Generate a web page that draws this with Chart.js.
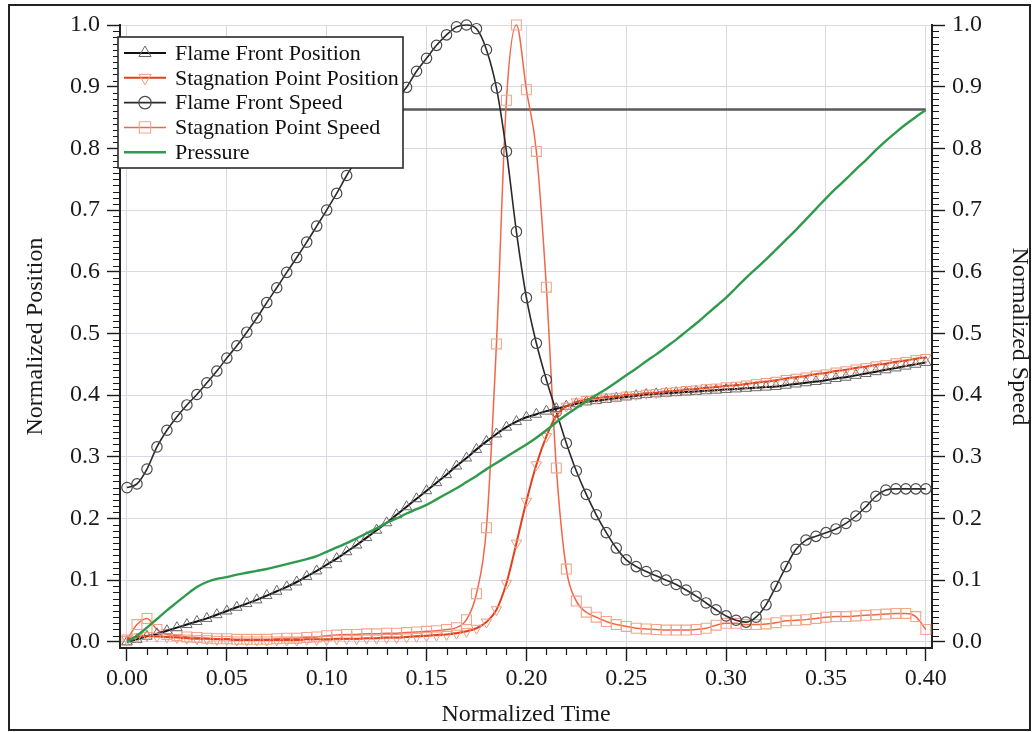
<!DOCTYPE html>
<html>
<head>
<meta charset="utf-8">
<title>Normalized flame and stagnation point history</title>
<script src="https://cdn.jsdelivr.net/npm/chart.js@4.4.1/dist/chart.umd.min.js"></script>
<style>
  html, body { margin: 0; padding: 0; background: #ffffff; }
  #wrap { width: 1036px; height: 732px; position: relative; }
  canvas { display: block; }
</style>
</head>
<body>
<div id="wrap"><canvas id="chart" width="1036" height="732"></canvas></div>
<script>
// Normalized time samples (every 0.005)
const TIME = [
  0.000, 0.005, 0.010, 0.015, 0.020, 0.025, 0.030, 0.035, 0.040, 0.045,
  0.050, 0.055, 0.060, 0.065, 0.070, 0.075, 0.080, 0.085, 0.090, 0.095,
  0.100, 0.105, 0.110, 0.115, 0.120, 0.125, 0.130, 0.135, 0.140, 0.145,
  0.150, 0.155, 0.160, 0.165, 0.170, 0.175, 0.180, 0.185, 0.190, 0.195,
  0.200, 0.205, 0.210, 0.215, 0.220, 0.225, 0.230, 0.235, 0.240, 0.245,
  0.250, 0.255, 0.260, 0.265, 0.270, 0.275, 0.280, 0.285, 0.290, 0.295,
  0.300, 0.305, 0.310, 0.315, 0.320, 0.325, 0.330, 0.335, 0.340, 0.345,
  0.350, 0.355, 0.360, 0.365, 0.370, 0.375, 0.380, 0.385, 0.390, 0.395,
  0.400
];

const FLAME_FRONT_POSITION = [
  0.000, 0.004, 0.009, 0.013, 0.018, 0.023, 0.028, 0.033, 0.038, 0.044,
  0.050, 0.056, 0.062, 0.068, 0.075, 0.082, 0.089, 0.097, 0.106, 0.115,
  0.125, 0.135, 0.146, 0.157, 0.169, 0.181, 0.193, 0.206, 0.219, 0.232,
  0.245, 0.258, 0.271, 0.285, 0.298, 0.312, 0.325, 0.337, 0.348, 0.357,
  0.364, 0.369, 0.374, 0.378, 0.382, 0.386, 0.389, 0.391, 0.393, 0.395,
  0.397, 0.399, 0.401, 0.402, 0.403, 0.404, 0.405, 0.406, 0.407, 0.408,
  0.409, 0.410, 0.411, 0.412, 0.413, 0.414, 0.416, 0.418, 0.420, 0.422,
  0.424, 0.427, 0.429, 0.432, 0.435, 0.438, 0.441, 0.444, 0.447, 0.450,
  0.453
];

const STAGNATION_POINT_POSITION = [
  0.004, 0.008, 0.010, 0.009, 0.008, 0.007, 0.006, 0.005, 0.005, 0.004,
  0.004, 0.003, 0.003, 0.003, 0.003, 0.003, 0.003, 0.003, 0.004, 0.004,
  0.004, 0.005, 0.005, 0.005, 0.006, 0.006, 0.007, 0.007, 0.008, 0.009,
  0.010, 0.011, 0.012, 0.014, 0.017, 0.022, 0.032, 0.052, 0.095, 0.160,
  0.228, 0.287, 0.333, 0.367, 0.382, 0.389, 0.393, 0.395, 0.397, 0.398,
  0.400, 0.401, 0.403, 0.404, 0.406, 0.407, 0.409, 0.410, 0.412, 0.413,
  0.415, 0.416, 0.418, 0.420, 0.422, 0.424, 0.427, 0.429, 0.431, 0.434,
  0.436, 0.439, 0.441, 0.444, 0.446, 0.449, 0.451, 0.454, 0.456, 0.459,
  0.461
];

const FLAME_FRONT_SPEED = [
  0.250, 0.256, 0.280, 0.316, 0.343, 0.365, 0.384, 0.401, 0.420, 0.439,
  0.460, 0.480, 0.502, 0.525, 0.550, 0.574, 0.599, 0.623, 0.648, 0.674,
  0.700, 0.727, 0.756, 0.782, 0.810, 0.837, 0.860, 0.880, 0.899, 0.925,
  0.946, 0.967, 0.984, 0.997, 1.000, 0.994, 0.960, 0.898, 0.795, 0.665,
  0.558, 0.484, 0.425, 0.373, 0.322, 0.277, 0.239, 0.206, 0.177, 0.152,
  0.133, 0.122, 0.114, 0.107, 0.100, 0.093, 0.084, 0.074, 0.063, 0.052,
  0.042, 0.035, 0.032, 0.040, 0.060, 0.090, 0.122, 0.150, 0.165, 0.171,
  0.177, 0.183, 0.192, 0.204, 0.219, 0.236, 0.246, 0.248, 0.248, 0.248,
  0.248
];

const STAGNATION_POINT_SPEED = [
  0.003, 0.028, 0.038, 0.020, 0.012, 0.010, 0.008, 0.007, 0.006, 0.005,
  0.005, 0.004, 0.004, 0.004, 0.004, 0.005, 0.006, 0.006, 0.007, 0.008,
  0.010, 0.011, 0.012, 0.012, 0.013, 0.013, 0.014, 0.014, 0.015, 0.016,
  0.017, 0.018, 0.020, 0.023, 0.036, 0.078, 0.185, 0.483, 0.878, 1.000,
  0.895, 0.795, 0.575, 0.282, 0.118, 0.066, 0.048, 0.040, 0.033, 0.028,
  0.025, 0.022, 0.021, 0.020, 0.019, 0.019, 0.019, 0.020, 0.022, 0.027,
  0.030, 0.030, 0.028, 0.028, 0.029, 0.031, 0.034, 0.035, 0.036, 0.038,
  0.040, 0.041, 0.041, 0.042, 0.043, 0.044, 0.045, 0.046, 0.046, 0.041,
  0.020
];

const PRESSURE = [
  0.000, 0.010, 0.023, 0.037, 0.051, 0.064, 0.077, 0.089, 0.097, 0.102,
  0.105, 0.109, 0.112, 0.115, 0.118, 0.122, 0.126, 0.130, 0.134, 0.139,
  0.146, 0.153, 0.160, 0.168, 0.176, 0.184, 0.193, 0.200, 0.208, 0.215,
  0.222, 0.231, 0.240, 0.249, 0.259, 0.269, 0.280, 0.290, 0.300, 0.310,
  0.320, 0.331, 0.343, 0.356, 0.368, 0.379, 0.390, 0.400, 0.410, 0.421,
  0.432, 0.443, 0.455, 0.466, 0.478, 0.490, 0.503, 0.516, 0.530, 0.544,
  0.558, 0.574, 0.590, 0.605, 0.620, 0.636, 0.652, 0.668, 0.685, 0.702,
  0.719, 0.735, 0.750, 0.766, 0.781, 0.797, 0.812, 0.826, 0.839, 0.851,
  0.862
];

// Constant reference level drawn across the plot
const REFERENCE_TIME = [0.000, 0.400];
const REFERENCE_LEVEL = [0.863, 0.863];

const X_TICKS = [0.00, 0.05, 0.10, 0.15, 0.20, 0.25, 0.30, 0.35, 0.40];
const X_TICK_LABELS = ['0.00', '0.05', '0.10', '0.15', '0.20', '0.25', '0.30', '0.35', '0.40'];
const Y_TICKS = [0.0, 0.1, 0.2, 0.3, 0.4, 0.5, 0.6, 0.7, 0.8, 0.9, 1.0];
const Y_TICK_LABELS = ['0.0', '0.1', '0.2', '0.3', '0.4', '0.5', '0.6', '0.7', '0.8', '0.9', '1.0'];

const SERIES_NAMES = [
  'Flame Front Position',
  'Stagnation Point Position',
  'Flame Front Speed',
  'Stagnation Point Speed',
  'Pressure'
];

const SERIF = "'Liberation Serif', 'Times New Roman', 'DejaVu Serif', serif";
const INK = '#1a1a1a';
const GRID = '#d9d9e6';

function pairs(xs, ys) {
  return xs.map((x, i) => ({ x: x, y: ys[i] }));
}

const datasets = [
  {
    label: SERIES_NAMES[1],
    data: pairs(TIME, STAGNATION_POINT_POSITION),
    borderColor: '#e2401f',
    borderWidth: 2,
    pointStyle: 'triangle',
    rotation: 180,
    pointRadius: 6,
    pointBorderColor: '#f29a7c',
    pointBorderWidth: 1,
    pointBackgroundColor: 'rgba(0,0,0,0)',
    order: 1,
    inLegend: true
  },
  {
    label: SERIES_NAMES[0],
    data: pairs(TIME, FLAME_FRONT_POSITION),
    borderColor: '#111111',
    borderWidth: 2,
    pointStyle: 'triangle',
    pointRadius: 6,
    pointBorderColor: '#6a6a6a',
    pointBorderWidth: 1,
    pointBackgroundColor: 'rgba(0,0,0,0)',
    order: 2,
    inLegend: true
  },
  {
    label: SERIES_NAMES[2],
    data: pairs(TIME, FLAME_FRONT_SPEED),
    borderColor: '#2a2a2a',
    borderWidth: 1.6,
    pointStyle: 'circle',
    pointRadius: 5.2,
    pointBorderColor: '#4a4a4a',
    pointBorderWidth: 1.2,
    pointBackgroundColor: 'rgba(0,0,0,0)',
    order: 3,
    inLegend: true
  },
  {
    label: SERIES_NAMES[3],
    data: pairs(TIME, STAGNATION_POINT_SPEED),
    borderColor: '#f0674a',
    borderWidth: 1.5,
    pointStyle: 'rect',
    pointRadius: 7,
    pointBorderColor: '#f3a68a',
    pointBorderWidth: 1.1,
    pointBackgroundColor: 'rgba(0,0,0,0)',
    order: 4,
    inLegend: true
  },
  {
    label: SERIES_NAMES[4],
    data: pairs(TIME, PRESSURE),
    borderColor: '#2f9a4c',
    borderWidth: 2.4,
    pointRadius: 0,
    order: 0,
    inLegend: true
  },
  {
    label: 'reference',
    data: pairs(REFERENCE_TIME, REFERENCE_LEVEL),
    borderColor: '#5a5a5a',
    borderWidth: 2.4,
    pointRadius: 0,
    order: 5,
    inLegend: false
  }
];

// White page background and the thin frame around the whole figure
const pageFrame = {
  id: 'pageFrame',
  beforeDraw(chart) {
    const ctx = chart.ctx;
    ctx.save();
    ctx.fillStyle = '#ffffff';
    ctx.fillRect(0, 0, chart.width, chart.height);
    ctx.restore();
  },
  afterDraw(chart) {
    const ctx = chart.ctx;
    ctx.save();
    ctx.strokeStyle = '#222222';
    ctx.lineWidth = 2;
    ctx.strokeRect(9, 5, 1021, 725);
    ctx.restore();
  }
};

// Short minor tick marks between the labelled ticks
const minorTicks = {
  id: 'minorTicks',
  afterDraw(chart) {
    const ctx = chart.ctx;
    const area = chart.chartArea;
    const sx = chart.scales.x;
    const sy = chart.scales.y;
    const len = 7;
    ctx.save();
    ctx.strokeStyle = INK;
    ctx.lineWidth = 1.2;
    ctx.beginPath();
    for (let i = 0; i <= 40; i++) {
      if (i % 5 === 0) continue;
      const px = Math.round(sx.getPixelForValue(i / 100)) + 0.5;
      ctx.moveTo(px, area.bottom);
      ctx.lineTo(px, area.bottom + len);
    }
    for (let i = 0; i <= 100; i++) {
      if (i % 10 === 0) continue;
      const py = Math.round(sy.getPixelForValue(i / 100)) + 0.5;
      ctx.moveTo(area.left, py);
      ctx.lineTo(area.left - len, py);
      ctx.moveTo(area.right, py);
      ctx.lineTo(area.right + len, py);
    }
    ctx.stroke();
    ctx.restore();
  }
};

// Boxed legend inside the upper-left corner of the plot
const boxedLegend = {
  id: 'boxedLegend',
  afterDraw(chart) {
    const ctx = chart.ctx;
    const area = chart.chartArea;
    const left = area.left - 2;
    const top = area.top + 12;
    const width = 285;
    const height = 131;
    const rowGap = 24.8;
    ctx.save();
    ctx.fillStyle = '#ffffff';
    ctx.fillRect(left, top, width, height);
    ctx.strokeStyle = '#2a2a2a';
    ctx.lineWidth = 1.6;
    ctx.strokeRect(left, top, width, height);

    const entries = SERIES_NAMES.map(name => chart.data.datasets.find(d => d.label === name && d.inLegend));
    entries.forEach((ds, i) => {
      const cy = top + 16 + i * rowGap;
      const x0 = left + 6;
      const x1 = left + 48;
      ctx.strokeStyle = ds.borderColor;
      ctx.lineWidth = ds.borderWidth;
      ctx.beginPath();
      ctx.moveTo(x0, cy);
      ctx.lineTo(x1, cy);
      ctx.stroke();
      if (ds.pointRadius > 0) {
        ctx.strokeStyle = ds.pointBorderColor;
        ctx.fillStyle = 'rgba(0,0,0,0)';
        ctx.lineWidth = ds.pointBorderWidth;
        Chart.helpers.drawPoint(ctx, {
          pointStyle: ds.pointStyle,
          rotation: ds.rotation || 0,
          radius: ds.pointRadius + 1,
          borderWidth: ds.pointBorderWidth
        }, (x0 + x1) / 2, cy);
      }
      ctx.fillStyle = '#111111';
      ctx.font = '22px ' + SERIF;
      ctx.textBaseline = 'middle';
      ctx.textAlign = 'left';
      ctx.fillText(ds.label, left + 57, cy + 1);
    });
    ctx.restore();
  }
};

const tickFont = { family: SERIF, size: 24 };
const titleFont = { family: SERIF, size: 24 };

new Chart(document.getElementById('chart'), {
  type: 'line',
  data: { datasets: datasets },
  plugins: [pageFrame, minorTicks, boxedLegend],
  options: {
    responsive: false,
    animation: false,
    parsing: true,
    layout: { padding: { top: 25, left: 0, right: 0, bottom: 0 } },
    elements: {
      line: { cubicInterpolationMode: 'monotone', fill: false },
      point: { hitRadius: 0 }
    },
    datasets: { line: { clip: false } },
    plugins: {
      legend: { display: false },
      tooltip: { enabled: false }
    },
    scales: {
      x: {
        type: 'linear',
        min: -0.0035,
        max: 0.4031,
        afterBuildTicks(scale) { scale.ticks = X_TICKS.map(v => ({ value: v })); },
        afterFit(scale) { scale.height = 84; },
        grid: {
          color: GRID,
          lineWidth: 1,
          drawTicks: true,
          tickLength: 13,
          tickColor: INK,
          tickWidth: 1.4
        },
        border: { display: true, color: '#222222', width: 2 },
        ticks: {
          autoSkip: false,
          maxRotation: 0,
          padding: 3,
          color: '#1a1a1a',
          font: tickFont,
          callback: (v, i) => X_TICK_LABELS[i]
        },
        title: {
          display: true,
          text: 'Normalized Time',
          color: '#1a1a1a',
          font: titleFont,
          padding: { top: 0, bottom: 3 }
        }
      },
      y: {
        type: 'linear',
        position: 'left',
        min: -0.01,
        max: 1.0,
        afterBuildTicks(scale) { scale.ticks = Y_TICKS.map(v => ({ value: v })); },
        afterFit(scale) { scale.width = 120; },
        grid: {
          color: GRID,
          lineWidth: 1,
          drawTicks: true,
          tickLength: 13,
          tickColor: INK,
          tickWidth: 1.4
        },
        border: { display: true, color: '#222222', width: 2 },
        ticks: {
          autoSkip: false,
          padding: 7,
          color: '#1a1a1a',
          font: tickFont,
          callback: (v, i) => Y_TICK_LABELS[i]
        },
        title: {
          display: true,
          text: 'Normalized Position',
          color: '#1a1a1a',
          font: titleFont,
          padding: { top: 21, bottom: 0 }
        }
      },
      y2: {
        type: 'linear',
        position: 'right',
        min: -0.01,
        max: 1.0,
        afterBuildTicks(scale) { scale.ticks = Y_TICKS.map(v => ({ value: v })); },
        afterFit(scale) { scale.width = 104; },
        grid: {
          drawOnChartArea: false,
          drawTicks: true,
          tickLength: 13,
          tickColor: INK,
          tickWidth: 1.4
        },
        border: { display: true, color: '#222222', width: 2 },
        ticks: {
          autoSkip: false,
          padding: 7,
          color: '#1a1a1a',
          font: tickFont,
          callback: (v, i) => Y_TICK_LABELS[i]
        },
        title: {
          display: true,
          text: 'Normalized Speed',
          color: '#1a1a1a',
          font: titleFont,
          padding: { top: 2, bottom: 0 }
        }
      }
    }
  }
});
</script>
</body>
</html>
